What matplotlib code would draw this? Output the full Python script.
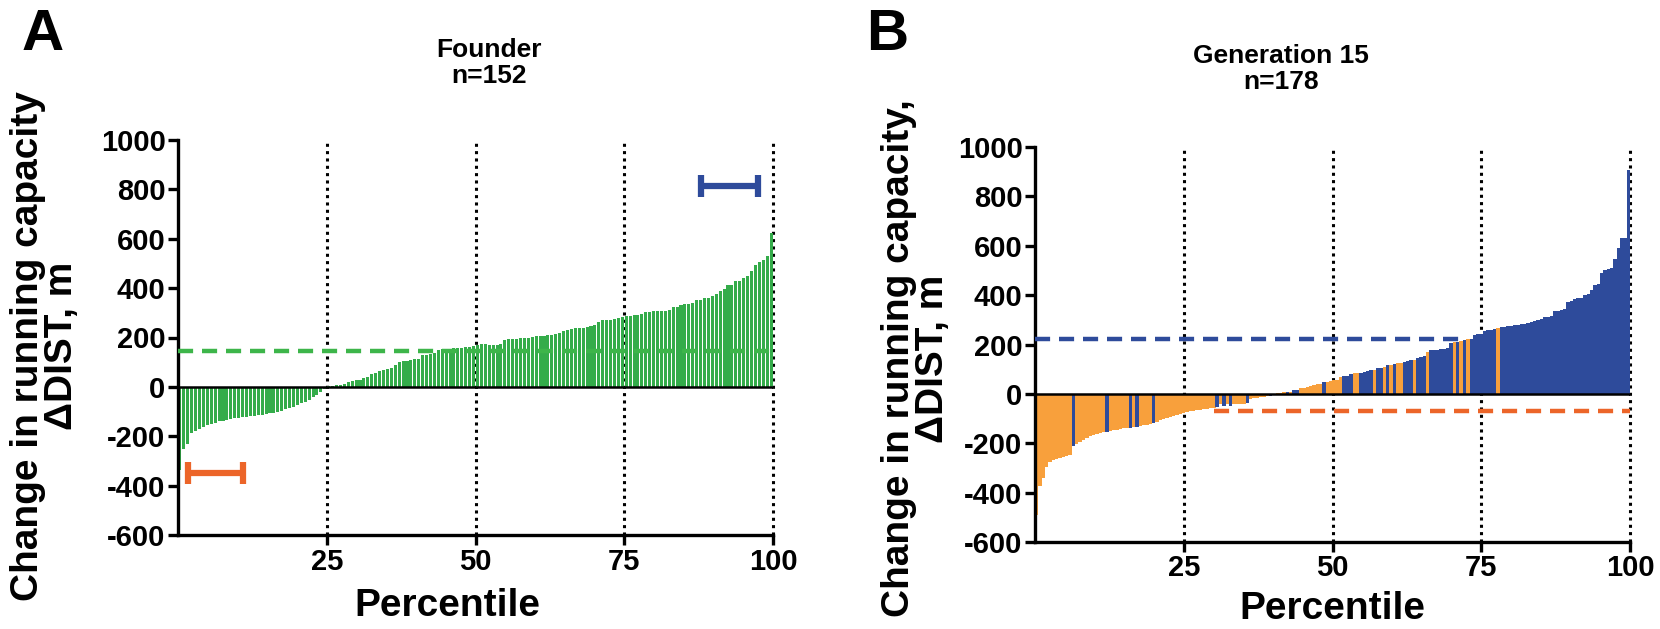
import numpy as np
import matplotlib
matplotlib.use("Agg")
import matplotlib.pyplot as plt

plt.rcParams['font.family'] = ['Liberation Sans', 'DejaVu Sans']
plt.rcParams['axes.unicode_minus'] = False

# ---------------- data ----------------
title_A = "Founder\nn=152"
title_B = "Generation 15\nn=178"

founder_vals = [
    -337, -252, -232, -188, -180, -172, -162, -155, -150, -145,
    -140, -137, -134, -131, -128, -126, -123, -121, -119, -117,
    -115, -113, -110, -107, -104, -100, -96, -91, -86, -80,
    -74, -67, -60, -52, -43, -33, -22, -10,
    3, 5, 7, 8, 12, 20, 25, 27, 28, 35,
    42, 52, 58, 65, 68, 74, 78, 88, 100, 104,
    106, 110, 112, 113, 128, 131, 134, 136, 150, 152,
    153, 154, 156, 157, 158, 160, 162, 165, 170, 172,
    173, 170, 170, 171, 172, 190, 192, 193, 194, 196,
    197, 198, 203, 205, 206, 208, 210, 212, 216, 218,
    228, 231, 234, 238, 239, 240, 243, 248, 252, 262,
    270, 271, 272, 275, 280, 282, 286, 288, 292, 293,
    295, 304, 305, 307, 308, 308, 309, 313, 322, 324,
    333, 335, 337, 340, 351, 353, 358, 360, 367, 378,
    387, 397, 412, 414, 428, 430, 441, 450, 468, 495,
    505, 515, 532, 625,
]
founder_mean = 145
founder_low_range = (1.7, 10.9, -350)    # x start, x end, y
founder_high_range = (87.9, 97.5, 815)

gen15_vals = [
    -490, -374, -340, -295, -275, -268, -262, -258, -256, -253,
    -248, -212, -205, -196, -188, -179, -172, -166, -162, -158,
    -156, -155, -151, -148, -145, -142, -140, -139, -138, -136,
    -135, -131, -128, -125, -122, -118, -113, -107, -101, -97,
    -93, -89, -85, -81, -78, -74, -71, -68, -66, -64,
    -62, -60, -58, -56, -55, -40, -51, -40, -50, -42,
    -42, -40, -40, -38, -20, -18, -16, -14, -12, -10,
    -8, -5, 3, 4, 6, 9, 8, 14, 16, 22,
    24, 27, 30, 34, 38, 42, 47, 48, 52, 55,
    57, 70, 71, 73, 80, 83, 84, 85, 87, 92,
    95, 97, 104, 105, 108, 117, 118, 122, 125, 127,
    130, 134, 136, 138, 144, 150, 152, 171, 176, 178,
    179, 180, 183, 186, 205, 210, 212, 216, 218, 221,
    223, 240, 242, 244, 256, 258, 260, 262, 268, 270,
    271, 273, 275, 279, 281, 283, 285, 287, 290, 295,
    300, 302, 310, 313, 316, 334, 336, 338, 345, 372,
    376, 385, 387, 390, 400, 403, 420, 440, 445, 488,
    500, 505, 510, 545, 590, 630, 632, 905,
]
# O = low line (orange), B = high line (blue)
gen15_group = (
    "OOOOOOOOOO" "OBOOOOOOOO" "OBOOOOOOBO" "BOOOOBOOOO"
    "OOOOOOOOOO" "OOOOBOBOBO" "OOOBOOOOOO" "BOOOOBOBBO"
    "OOOOOOBOOO" "OOBBBOOBBB" "BOBBOBOBOO" "BBBOBBBOBB"
    "BBBBBOBOBO" "BBBBBBBBOB" "BBBBBBBBBB" "BBBBBBBBBB"
    "BBBBBBBBBB" "BBBBBBBB"
)
gen15_high_mean = 221
gen15_high_extent = (0, 72)
gen15_low_mean = -70
gen15_low_extent = (30, 100)

yticks = [-600, -400, -200, 0, 200, 400, 600, 800, 1000]
xticks = [25, 50, 75, 100]

# ---------------- style ----------------
GREEN = '#34AC4A'
GREEN_D = '#3DB54A'
ORANGE_BAR = '#F8A03C'
BLUE = '#2E4B9B'
RED_OR = '#EC6529'

W, H = 1660, 629
fig = plt.figure(figsize=(W / 100, H / 100), dpi=100)

def frac_box(l, t, r, b):
    return [l / W, 1 - b / H, (r - l) / W, (b - t) / H]

axA = fig.add_axes(frac_box(178, 140, 773, 535))
axB = fig.add_axes(frac_box(1035, 147, 1630, 542))

def style_axes(ax):
    ax.set_xlim(0, 100)
    ax.set_ylim(-600, 1000)
    for s in ['top', 'right']:
        ax.spines[s].set_visible(False)
    for s in ['left', 'bottom']:
        ax.spines[s].set_linewidth(2.4)
    ax.set_yticks(yticks)
    ax.set_xticks(xticks)
    ax.tick_params(axis='both', length=7, width=2.4, direction='out',
                   labelsize=21, pad=2)
    for lab in ax.get_xticklabels() + ax.get_yticklabels():
        lab.set_fontweight('bold')
    for xv in xticks:
        ax.axvline(xv, color='black', linestyle=(0, (1, 1.4)), linewidth=2.2,
                   zorder=1, clip_on=False)
    ax.axhline(0, color='black', linewidth=1.8, zorder=4)
    ax.set_xlabel('Percentile', fontsize=28, fontweight='bold')

# ---- Panel A ----
nA = len(founder_vals)
stepA = 100 / nA
xA = (np.arange(nA) + 0.5) * stepA
axA.bar(xA, founder_vals, width=stepA * 0.78, color=GREEN, linewidth=0,
        zorder=2)
axA.axhline(founder_mean, color=GREEN_D, linewidth=3.2,
            linestyle=(0, (3.4, 2.0)), zorder=3)
for (x0, x1, yv), col in [(founder_low_range, RED_OR), (founder_high_range, BLUE)]:
    axA.errorbar([(x0 + x1) / 2], [yv], xerr=[(x1 - x0) / 2], fmt='none',
                 ecolor=col, elinewidth=4.5, capsize=8, capthick=4.5, zorder=5)
style_axes(axA)
axA.xaxis.set_label_coords(0.452, -0.135)

# ---- Panel B ----
nB = len(gen15_vals)
stepB = 100 / nB
xB = (np.arange(nB) + 0.5) * stepB
colsB = [ORANGE_BAR if g == 'O' else BLUE for g in gen15_group]
axB.bar(xB, gen15_vals, width=stepB * 1.02, color=colsB, linewidth=0,
        zorder=2)
axB.plot(gen15_high_extent, [gen15_high_mean] * 2, color=BLUE, linewidth=3.2,
         linestyle=(0, (3.4, 2.0)), zorder=3)
axB.plot(gen15_low_extent, [gen15_low_mean] * 2, color=RED_OR, linewidth=3.2,
         linestyle=(0, (3.4, 2.0)), zorder=3)
style_axes(axB)
axB.xaxis.set_label_coords(0.50, -0.125)

# ---- texts ----
fig.text(489 / W, 1 - 38 / H, title_A, ha='center', va='top', fontsize=19,
         fontweight='bold', linespacing=1.1)
fig.text(1281 / W, 1 - 44 / H, title_B, ha='center', va='top', fontsize=19,
         fontweight='bold', linespacing=1.1)
fig.text(22 / W, 1 - 8 / H, 'A', ha='left', va='top', fontsize=42,
         fontweight='bold')
fig.text(866 / W, 1 - 8 / H, 'B', ha='left', va='top', fontsize=42,
         fontweight='bold')
fig.text(45 / W, 0.45, 'Change in running capacity\nΔDIST, m', rotation=90,
         ha='center', va='center', fontsize=28, fontweight='bold',
         linespacing=0.95, multialignment='center')
fig.text(916 / W, 0.43, 'Change in running capacity,\nΔDIST, m', rotation=90,
         ha='center', va='center', fontsize=28, fontweight='bold',
         linespacing=0.95, multialignment='center')

fig.savefig('out.png', dpi=100)
